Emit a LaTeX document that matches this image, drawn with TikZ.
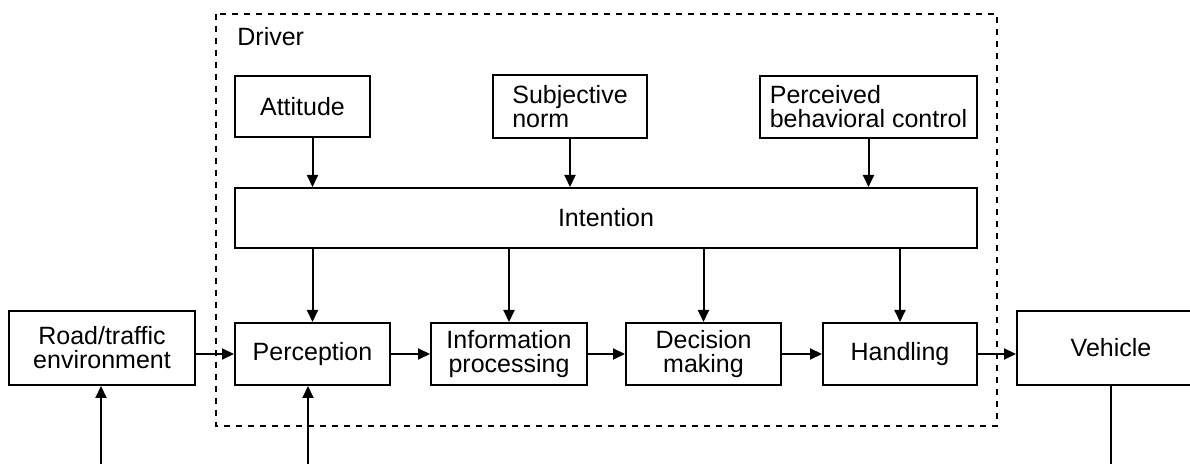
\documentclass[tikz,border=0pt]{standalone}
\usepackage{fontspec}
\setmainfont{Liberation Sans}
\usetikzlibrary{arrows.meta}

\begin{document}
\begin{tikzpicture}[x=0.5pt, y=-0.5pt,
  box/.style={draw, line width=1pt, inner sep=0pt, align=center,
    font=\fontsize{12.5}{12}\selectfont},
  leftbox/.style={box, align=left},
  arr/.style={line width=1pt, -{Triangle[length=6pt,width=5.5pt]}}]
  % Fix the frame and cut off what runs past it
  \useasboundingbox (0,0) rectangle (1190,464);
  \clip (0,0) rectangle (1190,464);

  % Dashed frame round the driver
  \draw[line width=0.6pt, dash pattern=on 3pt off 3pt] (216,14) rectangle (997,426);
  \node[anchor=base west, inner sep=0pt, font=\fontsize{12.5}{12}\selectfont] (driver) at (237,46) {Driver};

  % Top row
  \node[box, minimum width=67.5pt, minimum height=30.5pt] (attitude) at (302.5,106.5) {Attitude};
  \node[leftbox, minimum width=77pt, minimum height=31.5pt] (norm) at (570,106.5) {Subjective\\norm};
  \node[leftbox, minimum width=108.5pt, minimum height=31pt] (pbc) at (868.5,107) {Perceived\\behavioral control};

  % Intention bar
  \node[box, minimum width=371pt, minimum height=30pt] (intention) at (606,218) {Intention};

  % Bottom row
  \node[box, minimum width=93pt, minimum height=37pt] (road) at (102,348) {Road/traffic\\environment};
  \node[box, minimum width=77.5pt, minimum height=31pt] (perception) at (312.5,354) {Perception};
  \node[box, minimum width=78pt, minimum height=31pt] (info) at (509,354) {Information\\processing};
  \node[box, minimum width=77.5pt, minimum height=31pt] (decision) at (703.5,354) {Decision\\making};
  \node[box, minimum width=77pt, minimum height=31pt] (handling) at (900,354) {Handling};
  \node[box, minimum width=94pt, minimum height=37pt] (vehicle) at (1111,348) {Vehicle};

  % Into the intention
  \draw[arr] (attitude.south -| perception) -- (intention.north -| perception);
  \draw[arr] (norm.south) -- (intention.north -| norm);
  \draw[arr] (pbc.south) -- (intention.north -| pbc);

  % Out of the intention
  \foreach \n in {perception, info, decision, handling}
    \draw[arr] (intention.south -| \n) -- (\n.north);

  % Chain from left to right
  \draw[arr] (road.east |- perception) -- (perception.west);
  \draw[arr] (perception.east) -- (info.west);
  \draw[arr] (info.east) -- (decision.west);
  \draw[arr] (decision.east) -- (handling.west);
  \draw[arr] (handling.east) -- (vehicle.west |- handling);

  % Feedback lines, cut at the lower edge
  \coordinate (roadfb) at (101,470);
  \coordinate (percfb) at (308,470);
  \coordinate (vehfb) at (1111,470);
  \draw[arr] (roadfb) -- (roadfb |- road.south);
  \draw[arr] (percfb) -- (percfb |- perception.south);
  \draw[line width=1pt] (vehicle.south) -- (vehfb);
\end{tikzpicture}
\end{document}
